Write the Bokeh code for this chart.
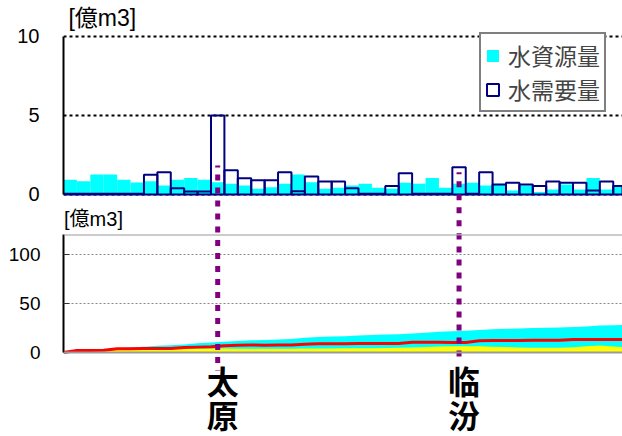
from bokeh.plotting import figure
from bokeh.layouts import column
from bokeh.models import (Range1d, FixedTicker, Span, Label, Legend, LegendItem,
                          ColumnDataSource)
from bokeh.core.properties import value
from bokeh.embed import file_html
from bokeh.resources import INLINE

# ---------------- data ----------------
# top panel: per-section values [億m3]
resource = [0.93, 0.84, 1.27, 1.27, 0.93, 0.76, 0.84, 0.57, 0.93, 1.05,
            0.93, 0.78, 0.68, 0.57, 0.36, 0.46, 0.68, 1.27, 0.78, 0.36,
            0.42, 0.57, 0.68, 0.42, 0.36, 0.74, 0.68, 1.05, 0.42, 0.68,
            0.74, 0.57, 0.61, 0.25, 0.57, 0.15, 0.32, 0.63, 0.32, 1.05,
            0.32, 0.53]
demand = [0.05, 0.05, 0.05, 0.05, 0.05, 0.05, 1.25, 1.41, 0.40, 0.19,
          0.19, 5.00, 1.54, 1.03, 0.90, 0.90, 1.41, 0.21, 1.14, 0.82,
          0.82, 0.40, 0.05, 0.05, 0.53, 1.35, 0.05, 0.05, 0.05, 1.73,
          0.05, 1.41, 0.63, 0.74, 0.63, 0.53, 0.82, 0.74, 0.74, 0.25,
          0.82, 0.53]
# bottom panel: values along the river at section boundaries [億m3]
cum_resource = [0, 0.9, 1.8, 3.0, 4.3, 5.2, 6.0, 6.8, 7.4, 8.3, 9.4,
                10.3, 11.1, 11.8, 12.4, 12.7, 13.2, 13.9, 15.1, 15.9, 16.3,
                16.7, 17.3, 17.9, 18.4, 18.7, 19.5, 20.1, 21.2, 21.6, 22.3,
                23.0, 23.6, 24.2, 24.5, 25.0, 25.2, 25.5, 26.1, 26.4, 27.5,
                27.8, 28.3]
red_line = [0, 2.0, 2.0, 2.2, 3.8, 3.9, 4.0, 4.1, 4.2, 5.0, 5.5,
            6.0, 7.0, 7.4, 7.6, 7.5, 7.6, 7.7, 8.5, 9.0, 9.0,
            9.0, 9.1, 9.1, 9.2, 9.2, 10.5, 10.5, 10.4, 10.2, 10.3,
            12.0, 12.2, 12.3, 12.3, 12.4, 12.5, 12.5, 13.2, 13.3, 13.3,
            13.3, 13.3]
yellow_area = [0, 0.8, 1.6, 2.4, 3.0, 3.4, 3.6, 3.8, 3.8, 3.9, 3.9,
               4.0, 4.0, 3.9, 3.8, 3.8, 3.8, 3.9, 4.0, 4.1, 4.2,
               4.3, 4.4, 4.4, 4.5, 4.8, 5.1, 5.6, 6.1, 6.4, 6.4,
               6.3, 6.0, 5.6, 5.2, 4.9, 4.8, 4.9, 5.5, 6.5, 7.1,
               6.2, 5.5]
cities = ["太原", "临汾"]
city_section = [11, 29]
top_ticks = [0, 5, 10]
bottom_ticks = [0, 50, 100]
unit_label = "[億m3]"
legend_labels = ["水資源量", "水需要量"]

# ---------------- styles ----------------
CYAN = "#00FFFF"
NAVY = "#000080"
PURPLE = "#800080"
NUM_FONT = "Liberation Sans"
JP_FONT = "Liberation Sans, Noto Sans CJK JP"

sec_x = [i + 0.5 for i in range(len(resource))]
edge_x = list(range(len(cum_resource)))
city_x = [sec_x[i] for i in city_section]

X_END = 41.69

# ---------------- top panel ----------------
p1 = figure(width=622, height=234, output_backend="svg", toolbar_location=None,
            x_range=Range1d(0, X_END), y_range=Range1d(-2.532, 12.278),
            x_axis_location=None, title=None,
            min_border_left=63, min_border_right=0, min_border_top=0,
            min_border_bottom=0)
p1.outline_line_color = None
p1.xgrid.visible = False
p1.yaxis.ticker = FixedTicker(ticks=top_ticks)
p1.yaxis.bounds = (0, 10)
p1.yaxis.axis_line_width = 2
p1.yaxis.axis_line_color = "black"
p1.yaxis.major_tick_out = 0
p1.yaxis.major_tick_in = 0
p1.yaxis.minor_tick_line_color = None
p1.yaxis.major_label_text_font = NUM_FONT
p1.yaxis.major_label_text_font_size = "20px"
p1.yaxis.major_label_text_color = "black"
p1.yaxis.major_label_standoff = 24
p1.ygrid.ticker = FixedTicker(ticks=top_ticks)
p1.ygrid.grid_line_color = "black"
p1.ygrid.grid_line_width = 2
p1.ygrid.grid_line_dash = "3 3"

src_top = ColumnDataSource(dict(x=sec_x, res=resource, dem=demand))
r_res = p1.vbar(x="x", top="res", bottom=0, width=1, source=src_top,
                fill_color=CYAN, line_color=None)
r_dem = p1.vbar(x="x", top="dem", bottom=0, width=1, source=src_top,
                fill_color=None, line_color=NAVY, line_width=2)

p1.segment(x0=city_x, y0=[1.84, 1.41], x1=city_x, y1=[-3.0, -3.0],
           line_color=PURPLE, line_width=5, line_dash="6 7", line_dash_offset=4)

legend = Legend(items=[LegendItem(label=legend_labels[0], renderers=[r_res]),
                       LegendItem(label=legend_labels[1], renderers=[r_dem])],
                location=(416, 122))
legend.border_line_color = "black"
legend.border_line_width = 2
legend.background_fill_color = "white"
legend.background_fill_alpha = 1
legend.label_text_font = JP_FONT
legend.label_text_font_size = "23px"
legend.label_height = 20
legend.glyph_width = 15
legend.glyph_height = 15
legend.padding = 4
legend.spacing = -6
legend.label_standoff = 8
legend.margin = 0
p1.add_layout(legend)

p1.add_layout(Label(x=0.37, y=11.14, text=unit_label, text_font=JP_FONT,
                    text_font_size="23px", text_baseline="middle",
                    text_align="left", text_color="black"))
p1.add_layout(Label(x=0.04, y=-1.52, text=unit_label, text_font=JP_FONT,
                    text_font_size="20px", text_baseline="middle",
                    text_align="left", text_color="black"))

# ---------------- bottom panel ----------------
p2 = figure(width=622, height=202, output_backend="svg", toolbar_location=None,
            x_range=p1.x_range, y_range=Range1d(-85.6, 120.3),
            x_axis_location=None, title=None,
            min_border_left=63, min_border_right=0, min_border_top=0,
            min_border_bottom=0)
p2.outline_line_color = None
p2.xgrid.visible = False
p2.yaxis.ticker = FixedTicker(ticks=bottom_ticks)
p2.yaxis.bounds = (0, 120)
p2.yaxis.axis_line_width = 2
p2.yaxis.axis_line_color = "black"
p2.yaxis.major_tick_out = 0
p2.yaxis.major_tick_in = 6
p2.yaxis.major_tick_line_color = "#333333"
p2.yaxis.minor_tick_line_color = None
p2.yaxis.major_label_text_font = NUM_FONT
p2.yaxis.major_label_text_font_size = "19px"
p2.yaxis.major_label_text_color = "black"
p2.yaxis.major_label_standoff = 23
p2.ygrid.ticker = FixedTicker(ticks=[50, 100])
p2.ygrid.grid_line_color = "#888888"
p2.ygrid.grid_line_width = 1
p2.ygrid.grid_line_dash = "2 2"

src_bot = ColumnDataSource(dict(x=edge_x, cyan=cum_resource, red=red_line,
                                yel=yellow_area))
p2.varea(x="x", y1=0, y2="cyan", source=src_bot, fill_color=CYAN)
p2.varea(x="x", y1=0, y2="yel", source=src_bot, fill_color="#FFFF00")
p2.line(x="x", y="red", source=src_bot, line_color="#FF0000", line_width=3)

p2.add_layout(Span(location=120, dimension="width", line_color="#999999",
                   line_width=1.5))
p2.add_layout(Span(location=0, dimension="width", line_color="#999999",
                   line_width=2))

p2.segment(x0=city_x, y0=[190.2, 183.4], x1=city_x, y1=[-18.3, -10.2],
           line_color=PURPLE, line_width=5, line_dash="6 7", line_dash_offset=4)

# city names written vertically, one character per row
for row, y_row in enumerate([-27.6, -62.2]):
    p2.text(x=city_x, y=[y_row] * len(city_x), text=[c[row] for c in cities],
            x_offset=5, text_font=value("Noto Sans CJK SC"),
            text_font_size="32px", text_font_style="bold",
            text_align="center", text_baseline="middle", text_color="black")

layout = column(p1, p2, spacing=0)
open("out.html", "w").write(file_html(layout, INLINE))
